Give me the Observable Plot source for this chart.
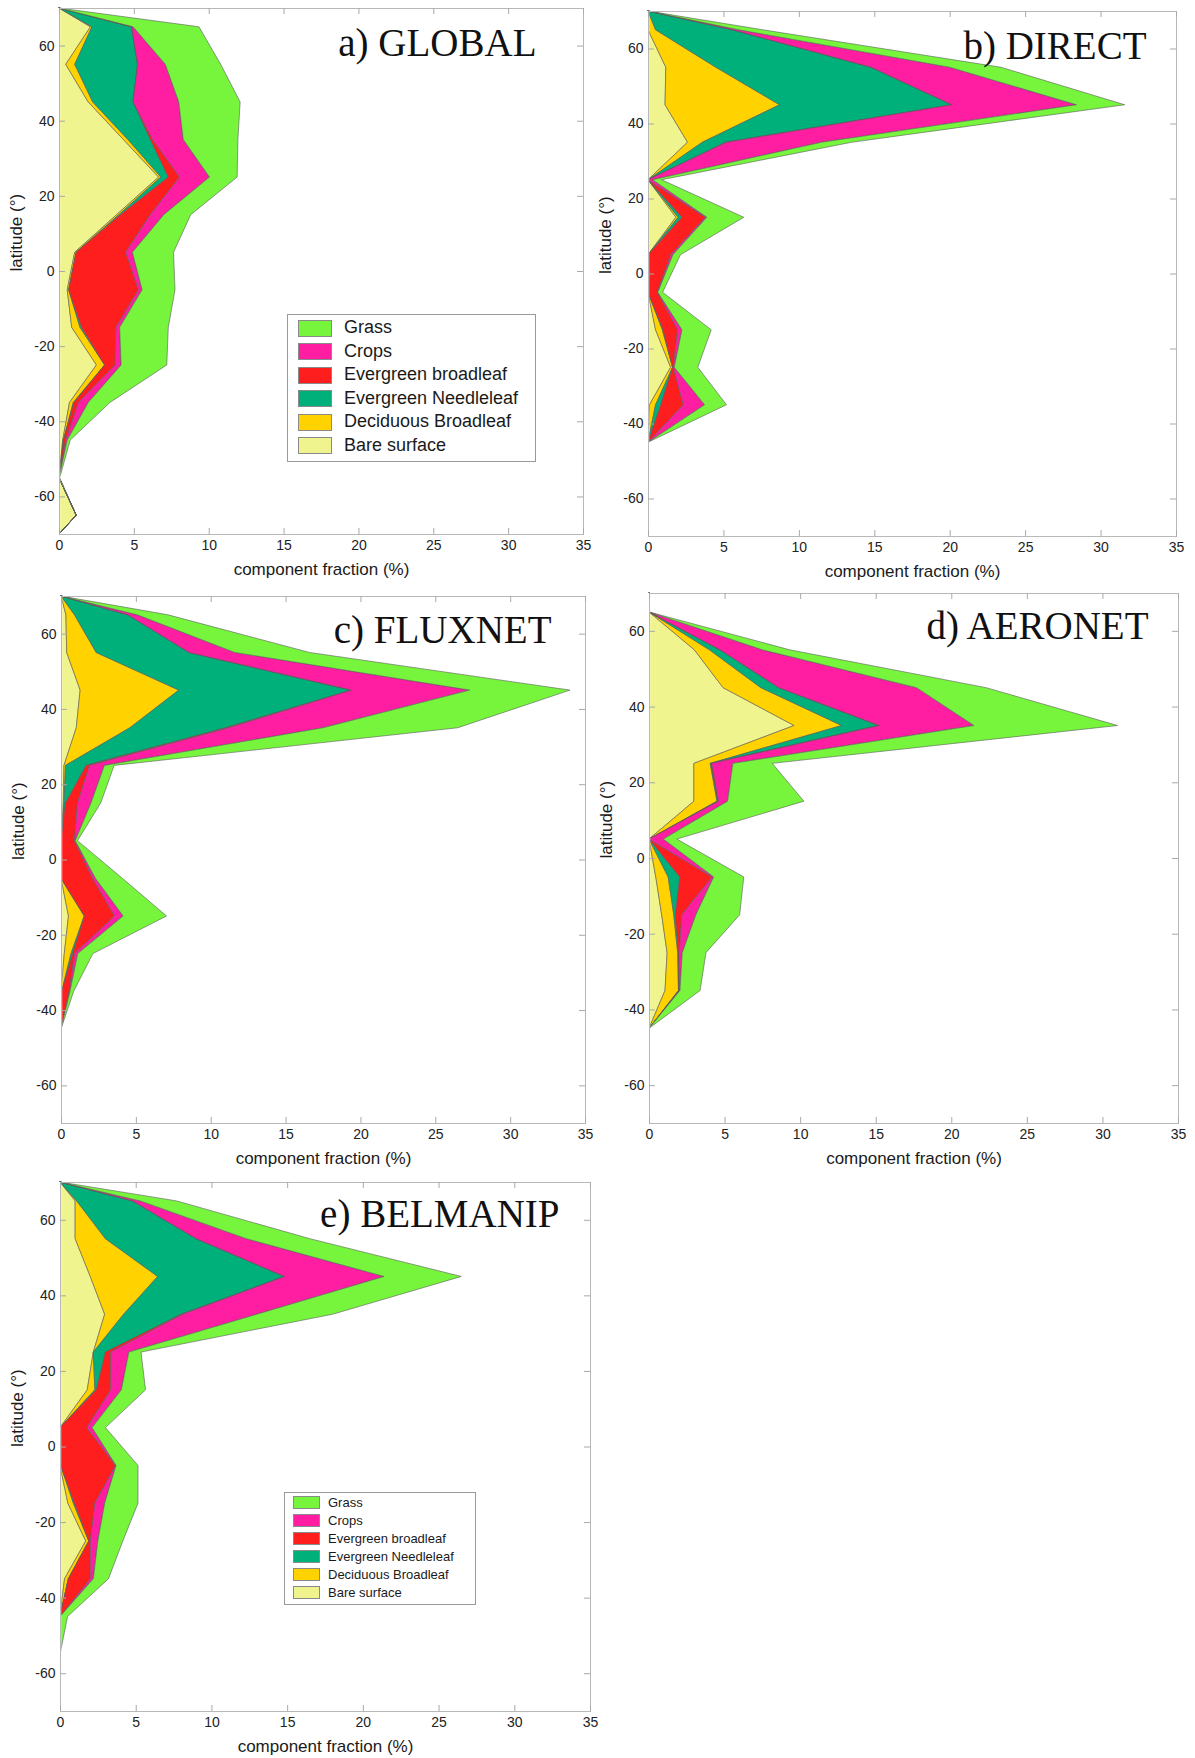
<!DOCTYPE html>
<html>
<head>
<meta charset="utf-8">
<script src="https://cdn.jsdelivr.net/npm/d3@7"></script>
<script src="https://cdn.jsdelivr.net/npm/@observablehq/plot@0.6"></script>
<style>
  body { margin: 0; background: #fff; }
  #wrap { position: relative; width: 1195px; height: 1758px; overflow: hidden; background: #fff;
          font-family: "Liberation Sans", Arial, sans-serif; }
  .panel { position: absolute; }
  .legend { position: absolute; border: 1px solid #9a9a9a; background: #fff; box-sizing: border-box; }
  .legend .sw { position: absolute; box-sizing: border-box; border: 1px solid #8a8a8a; }
  .legend .lab { position: absolute; }
</style>
</head>
<body>
<div id="wrap"></div>
<script>
// ---------- shared categories / ticks ----------
const latitudes = [70, 65, 55, 45, 35, 25, 15, 5, -5, -15, -25, -35, -45, -55, -65, -70];
const classes = ["Bare surface", "Deciduous Broadleaf", "Evergreen Needleleaf", "Evergreen broadleaf", "Crops", "Grass"];
const classColors = ["#EFF48E", "#FFD200", "#00B07A", "#FF1E1E", "#FF1EA2", "#76F53C"];
const xTicks = [0, 5, 10, 15, 20, 25, 30, 35];
const yTicks = [-60, -40, -20, 0, 20, 40, 60];

// ---------- a) GLOBAL (component fraction %, by latitude) ----------
const globalBare   = [0, 2.1, 0.45, 1.95, 4.3, 6.65, 3.85, 1.05, 0.55, 0.85, 2.5, 0.7, 0.25, 0, 1.15, 0];
const globalDecid  = [0, 0.1, 0.6, 0.3, 0.3, 0.15, 0.15, 0.1, 0.1, 0.55, 0.55, 0.25, 0.05, 0, 0, 0];
const globalNeedle = [0, 2.65, 4.2, 2.7, 1.5, 0.5, 0.1, 0, 0, 0.1, 0, 0.05, 0, 0, 0, 0];
const globalBroad  = [0, 0, 0, 0, 0.15, 0.75, 2.0, 3.3, 4.65, 2.3, 0.7, 0.3, 0.15, 0, 0, 0];
const globalCrops  = [0, 0.1, 1.85, 3.05, 2.05, 2.0, 0.9, 0.45, 0.25, 0.25, 0.4, 0.65, 0.1, 0, 0, 0];
const globalGrass  = [0, 4.4, 3.7, 4.1, 3.65, 1.85, 1.8, 2.75, 2.2, 3.25, 3.05, 1.45, 0.2, 0.05, 0, 0];

// ---------- b) DIRECT ----------
const directBare   = [0, 0, 1.18, 1.13, 2.62, 0, 1.85, 0, 0, 0.5, 1.5, 0.1, 0, 0, 0, 0];
const directDecid  = [0, 0.5, 3.32, 7.59, 0.98, 0, 0.15, 0, 0, 0.45, 0.13, 0.4, 0, 0, 0, 0];
const directNeedle = [0, 5.1, 10.3, 11.43, 1.57, 0, 0.25, 0, 0, 0.05, 0, 0.35, 0, 0, 0, 0];
const directBroad  = [0, 0, 0, 0, 0.03, 0, 1.55, 1.5, 0.62, 0.96, 0.04, 1.49, 0, 0, 0, 0];
const directCrops  = [0, 0.4, 5.2, 8.25, 6.3, 0.3, 0.1, 0.15, 0.03, 0.29, 0.07, 1.41, 0, 0, 0, 0];
const directGrass  = [0, 1.6, 3.4, 3.2, 2.0, 0.6, 2.45, 0.5, 0.32, 1.94, 1.56, 1.45, 0, 0, 0, 0];

// ---------- c) FLUXNET ----------
const fluxnetBare   = [0, 0.33, 0.38, 1.28, 1.02, 0.2, 0.15, 0, 0, 0.5, 0.22, 0, 0, 0, 0, 0];
const fluxnetDecid  = [0, 0.57, 1.97, 6.59, 3.58, 0.1, 0.05, 0, 0, 1.05, 0.45, 0.05, 0, 0, 0, 0];
const fluxnetNeedle = [0, 3.57, 6.21, 11.53, 6.4, 1.38, 0.1, 0, 0, 0.02, 0.11, 0, 0, 0, 0, 0];
const fluxnetBroad  = [0, 0, 0, 0, 0.2, 0.22, 0.8, 0.9, 2.1, 2.01, 0.12, 0.5, 0, 0, 0, 0];
const fluxnetCrops  = [0, 0.63, 3.04, 7.9, 6.3, 1.0, 0.9, 0.05, 0.2, 0.57, 0.22, 0.05, 0, 0, 0, 0];
const fluxnetGrass  = [0, 2.05, 5.0, 6.7, 9.0, 0.65, 0.65, 0.15, 1.8, 2.9, 1.01, 0.25, 0, 0, 0, 0];

// ---------- d) AERONET ----------
const aeronetBare   = [0, 0, 3.0, 4.9, 9.6, 2.97, 2.97, 0, 0.45, 0.84, 1.2, 1.06, 0, 0, 0, 0];
const aeronetDecid  = [0, 0, 1.0, 2.5, 3.15, 1.08, 1.53, 0, 0.82, 0.8, 0.7, 0.89, 0, 0, 0, 0];
const aeronetNeedle = [0, 0, 0.7, 1.2, 2.45, 0.05, 0.05, 0, 0.77, 0.1, 0.05, 0.02, 0, 0, 0, 0];
const aeronetBroad  = [0, 0, 0, 0, 0.05, 0.05, 0.05, 0, 2.13, 0.43, 0.05, 0.03, 0, 0, 0, 0];
const aeronetCrops  = [0, 0, 2.8, 9.1, 6.25, 1.4, 0.6, 0.95, 0.11, 0.93, 0.2, 0.05, 0, 0, 0, 0];
const aeronetGrass  = [0, 0, 1.8, 4.6, 9.5, 2.6, 5.05, 0.89, 1.99, 2.9, 1.57, 1.33, 0, 0, 0, 0];

// ---------- e) BELMANIP ----------
const belmanipBare   = [0, 1.0, 1.0, 2.0, 2.95, 2.2, 1.8, 0, 0, 0.52, 1.7, 0.3, 0, 0, 0, 0];
const belmanipDecid  = [0, 0.1, 2.0, 4.45, 1.25, 0, 0.5, 0, 0.05, 0.36, 0.2, 0.25, 0, 0, 0, 0];
const belmanipNeedle = [0, 3.7, 6.0, 8.38, 3.8, 0.8, 0.1, 0, 0, 0.07, 0, 0, 0, 0, 0, 0];
const belmanipBroad  = [0, 0, 0, 0, 0.1, 0.35, 0.95, 1.77, 3.61, 1.35, 0.1, 1.45, 0, 0, 0, 0];
const belmanipCrops  = [0, 0.5, 3.3, 6.57, 4.9, 1.2, 0.7, 0.35, 0.04, 0.65, 0.5, 0.2, 0, 0, 0, 0];
const belmanipGrass  = [0, 2.4, 4.2, 5.1, 5.0, 0.8, 1.6, 0.88, 1.45, 2.2, 1.65, 1.0, 0.5, 0, 0, 0];

// ---------- layout (frame edges in page pixels) ----------
const panels = [
  {title: "a) GLOBAL",   series: [globalBare, globalDecid, globalNeedle, globalBroad, globalCrops, globalGrass],
   fx0: 59, fx1: 583, fy0: 8, fy1: 534, tdx: -47, tdy: 47},
  {title: "b) DIRECT",   series: [directBare, directDecid, directNeedle, directBroad, directCrops, directGrass],
   fx0: 648, fx1: 1176, fy0: 11, fy1: 536, tdx: -30, tdy: 47},
  {title: "c) FLUXNET",  series: [fluxnetBare, fluxnetDecid, fluxnetNeedle, fluxnetBroad, fluxnetCrops, fluxnetGrass],
   fx0: 61, fx1: 585, fy0: 596, fy1: 1123, tdx: -34, tdy: 46},
  {title: "d) AERONET",  series: [aeronetBare, aeronetDecid, aeronetNeedle, aeronetBroad, aeronetCrops, aeronetGrass],
   fx0: 649, fx1: 1178, fy0: 593, fy1: 1123, tdx: -30, tdy: 45},
  {title: "e) BELMANIP", series: [belmanipBare, belmanipDecid, belmanipNeedle, belmanipBroad, belmanipCrops, belmanipGrass],
   fx0: 60, fx1: 590, fy0: 1182, fy1: 1711, tdx: -31, tdy: 44}
];

const legends = [
  {left: 287, top: 314, width: 249, height: 148, swLeft: 10, swW: 34, swH: 17, txtLeft: 56, row0: 14, rowStep: 23.56, font: 18},
  {left: 284, top: 1492, width: 192, height: 113, swLeft: 7.5, swW: 27, swH: 13, txtLeft: 43, row0: 10.5, rowStep: 18.06, font: 13}
];

const wrap = document.getElementById("wrap");
const ML = 60, MT = 12, MR = 12, MB = 46;
const sansFont = "'Liberation Sans', Arial, Helvetica, sans-serif";
const serifFont = "'Liberation Serif', 'Times New Roman', Times, serif";

for (const p of panels) {
  const rows = classes.flatMap((cls, i) => latitudes.map((lat, j) => ({lat, value: p.series[i][j], cls})));
  const fw = p.fx1 - p.fx0, fh = p.fy1 - p.fy0;
  const tickColor = "#a9a9a9";
  const frameColor = "#b8b8b8";
  const svg = Plot.plot({
    width: fw + ML + MR,
    height: fh + MT + MB,
    marginLeft: ML, marginTop: MT, marginRight: MR, marginBottom: MB,
    x: {domain: [0, 35]},
    y: {domain: [-70, 70]},
    color: {domain: classes, range: classColors},
    style: {background: "transparent", fontFamily: sansFont, fontSize: "14px", color: "#222", overflow: "visible"},
    marks: [
      Plot.areaX(rows, {y: "lat", x: "value", fill: "cls", order: classes,
        stroke: "#5a5a5a", strokeWidth: 0.6, strokeOpacity: 1, strokeLinejoin: "round"}),
      // hide the zero-width outline running along the left axis
      Plot.ruleX([0], {stroke: "#ffffff", strokeWidth: 2.4, dx: -0.5}),
      Plot.frame({stroke: frameColor, strokeWidth: 1}),
      Plot.tickX(xTicks, {x: d => d, insetTop: fh - 6, stroke: tickColor}),
      Plot.tickX(xTicks, {x: d => d, insetBottom: fh - 6, stroke: tickColor}),
      Plot.tickY(yTicks, {y: d => d, insetRight: fw - 6, stroke: tickColor}),
      Plot.tickY(yTicks, {y: d => d, insetLeft: fw - 6, stroke: tickColor}),
      Plot.axisX({ticks: xTicks, tickSize: 0, tickPadding: 6, label: null, tickFormat: d => String(d), fontSize: 14}),
      Plot.axisY({ticks: yTicks, tickSize: 0, tickPadding: 5, label: null, tickFormat: d => String(d), fontSize: 14}),
      Plot.text(["component fraction (%)"], {text: d => d, frameAnchor: "bottom", dy: 35, lineAnchor: "middle", fontSize: 17, fill: "#1a1a1a"}),
      Plot.text(["latitude (°)"], {text: d => d, frameAnchor: "left", dx: -43, rotate: -90, lineAnchor: "middle", fontSize: 17, fill: "#1a1a1a"}),
      Plot.text([p.title], {text: d => d, frameAnchor: "top-right", dx: p.tdx, dy: p.tdy, textAnchor: "end",
        lineAnchor: "bottom", fontSize: 39, fontFamily: serifFont, fill: "#111"})
    ]
  });
  svg.classList.add("panel");
  svg.style.left = (p.fx0 - ML) + "px";
  svg.style.top = (p.fy0 - MT) + "px";
  svg.style.maxWidth = "none";
  wrap.appendChild(svg);
}

// ---------- legends (inside panels a and e) ----------
const legendOrder = classes.slice().reverse();
for (const L of legends) {
  const box = document.createElement("div");
  box.className = "legend";
  Object.assign(box.style, {left: L.left + "px", top: L.top + "px", width: L.width + "px", height: L.height + "px"});
  legendOrder.forEach((cls, i) => {
    const c = L.row0 + i * L.rowStep;
    const sw = document.createElement("div");
    sw.className = "sw";
    Object.assign(sw.style, {left: L.swLeft + "px", top: (c - L.swH / 2 - 1) + "px", width: L.swW + "px", height: L.swH + "px",
      background: classColors[classes.indexOf(cls)]});
    box.appendChild(sw);
    const lab = document.createElement("div");
    lab.className = "lab";
    lab.textContent = cls;
    Object.assign(lab.style, {left: L.txtLeft + "px", top: (c - L.font * 0.6 - 1) + "px", fontSize: L.font + "px",
      lineHeight: (L.font * 1.2) + "px", fontFamily: sansFont, color: "#1a1a1a", whiteSpace: "nowrap"});
    box.appendChild(lab);
  });
  wrap.appendChild(box);
}
</script>
</body>
</html>
